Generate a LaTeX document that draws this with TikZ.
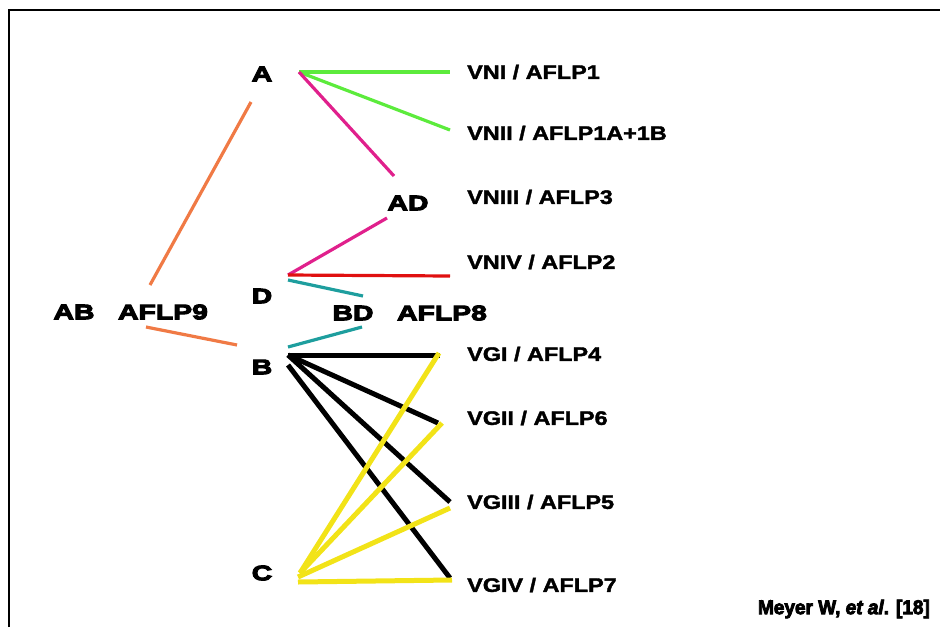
\documentclass[tikz,border=0pt]{standalone}
\usepackage{fontspec}
\setmainfont{Liberation Sans}
\newfontfamily\leaffont{Liberation Sans Bold}[FakeStretch=1.2,FakeBold=2]
\newfontfamily\heavyfont{Liberation Sans Bold}[FakeStretch=1.35,FakeBold=5]
\newfontfamily\creditfont{Liberation Sans Bold}[FakeStretch=0.95,FakeBold=4]
\newfontfamily\credititfont{Liberation Sans Bold Italic}[FakeStretch=0.95,FakeBold=4]

\definecolor{lgreen}{HTML}{5CEB3C}
\definecolor{lmagenta}{HTML}{E0208C}
\definecolor{lorange}{HTML}{F07A45}
\definecolor{lred}{HTML}{E01010}
\definecolor{lteal}{HTML}{1E9E9E}
\definecolor{lyellow}{HTML}{F2E318}

\tikzset{
  clade/.style={font=\heavyfont\fontsize{21}{21}\selectfont, inner sep=0pt},
  leaf/.style={font=\leaffont\fontsize{19.5}{19.5}\selectfont, anchor=west, inner sep=0pt},
  fine/.style={line width=3.2pt},
  bold/.style={line width=5pt},
}

\begin{document}
\begin{tikzpicture}[x=1pt,y=-1pt]
\useasboundingbox (0,0) rectangle (940,627);

% frame
\draw[line width=2pt] (9,627) -- (9,10) -- (940,10);

% clade labels
\node[clade] (A)  at (262,74)  {A};
\node[clade] (AD) at (408,203) {AD};
\node[clade] (D)  at (262,296) {D};
\node[clade] (B)  at (262,367) {B};
\node[clade] (C)  at (262,573) {C};
\node[clade] (AB) at (74,312)  {AB};
\node[clade] (F9) at (163,312) {AFLP9};
\node[clade] (BD) at (353,313) {BD};
\node[clade] (F8) at (442,313) {AFLP8};

% leaf labels
\node[leaf] (vn1) at (467,72)  {VNI / AFLP1};
\node[leaf] (vn2) at (467,133) {VNII / AFLP1A+1B};
\node[leaf] (vn3) at (467,197) {VNIII / AFLP3};
\node[leaf] (vn4) at (467,262) {VNIV / AFLP2};
\node[leaf] (vg1) at (467,354) {VGI / AFLP4};
\node[leaf] (vg2) at (467,418) {VGII / AFLP6};
\node[leaf] (vg3) at (467,502) {VGIII / AFLP5};
\node[leaf] (vg4) at (467,585) {VGIV / AFLP7};

% line end points
\coordinate (aR)   at (299,72);
\coordinate (vn1E) at (450,72);
\coordinate (vn2E) at (450,130);
\coordinate (adT)  at (394,176);
\coordinate (abU)  at (150,285);
\coordinate (aL)   at (251,102);
\coordinate (dR)   at (288,275);
\coordinate (adB)  at (387,218);
\coordinate (vn4E) at (450,276);
\coordinate (dB)   at (288,280);
\coordinate (bdU)  at (363,296);
\coordinate (abL)  at (146,327);
\coordinate (bL)   at (237,345);
\coordinate (bT)   at (288,347);
\coordinate (bdL)  at (362,327);
\coordinate (bR)   at (288,355);
\coordinate (bR2)  at (288,365);
\coordinate (vg1E) at (440,355);
\coordinate (vg2E) at (438,423);
\coordinate (vg3E) at (450,502);
\coordinate (vg4E) at (450,578);
\coordinate (cR)   at (300,573);
\coordinate (cR2)  at (298,577);
\coordinate (cR3)  at (298,582);
\coordinate (vg1Y) at (439,353);
\coordinate (vg2Y) at (442,423);
\coordinate (vg3Y) at (450,508);
\coordinate (vg4Y) at (452,580);

% A branch
\draw[fine, lgreen] (aR) -- (vn1E);
\draw[fine, lgreen] (aR) -- (vn2E);
\draw[fine, lmagenta] (aR) -- (adT);
\draw[fine, lorange] (abU) -- (aL);

% D branch
\draw[fine, lmagenta] (dR) -- (adB);
\draw[fine, lred] (dR) -- (vn4E);
\draw[fine, lteal] (dB) -- (bdU);

% B branch
\draw[fine, lorange] (abL) -- (bL);
\draw[fine, lteal] (bT) -- (bdL);
\draw[bold, black] (bR) -- (vg1E);
\draw[bold, black] (bR) -- (vg2E);
\draw[bold, black] (bR) -- (vg3E);
\draw[bold, black] (bR2) -- (vg4E);

% C branch
\draw[bold, lyellow] (cR) -- (vg1Y);
\draw[bold, lyellow] (cR) -- (vg2Y);
\draw[bold, lyellow] (cR2) -- (vg3Y);
\draw[bold, lyellow] (cR3) -- (vg4Y);

% credit
\node[anchor=east, inner sep=0pt, font=\creditfont\fontsize{20}{20}\selectfont] (credit) at (930,609)
  {Meyer W, {\credititfont et al}. [18]};
\end{tikzpicture}
\end{document}
